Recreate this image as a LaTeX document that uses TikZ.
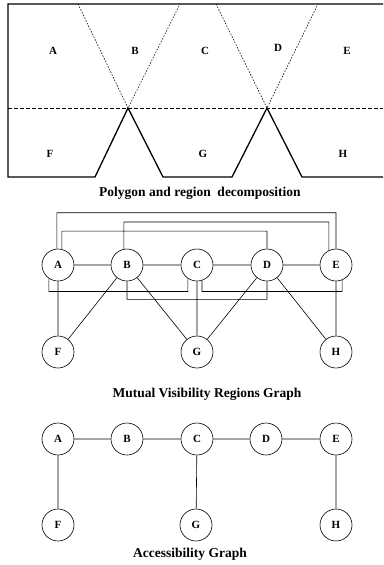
\documentclass[tikz,border=0pt]{standalone}
\usepackage{fontspec}
\setmainfont{Liberation Serif}

\begin{document}
\begin{tikzpicture}[x=1pt,y=-1pt,line width=.6pt,
    region/.style={circle,draw,minimum size=32pt,inner sep=0pt,
	font=\fontsize{11}{13}\selectfont\bfseries},
    letter/.style={font=\fontsize{11}{13}\selectfont\bfseries},
    caption/.style={font=\fontsize{13.5}{16}\selectfont\bfseries}]
\useasboundingbox (0,0) rectangle (383,565);
% polygon
\draw [line width=1.3pt]
    (383,4) -- (8,4) -- (8,177) -- (95,177) -- (128,108) -- (163,177)
    -- (232,177) -- (267,108) -- (302,177) -- (383,177);
\draw [dash pattern=on 4pt off 2pt] (8,108) -- (383,108);
\draw [dash pattern=on 1.5pt off 1.5pt]
    (78,4) -- (128,108) -- (180,4)
    (216,4) -- (267,108) -- (318,4);
\path
    (53,51) node [letter] (rA) {A}
    (135,51) node [letter] (rB) {B}
    (205,51) node [letter] (rC) {C}
    (278,48) node [letter] (rD) {D}
    (347,51) node [letter] (rE) {E}
    (50,154) node [letter] (rF) {F}
    (203,154) node [letter] (rG) {G}
    (343,154) node [letter] (rH) {H}
    (200,193) node [caption] (cap1) {Polygon and region\ \ decomposition};
% mutual visibility regions graph
\path
    (58,265) node [region] (vA) {A}
    (127,265) node [region] (vB) {B}
    (197,265) node [region] (vC) {C}
    (267,265) node [region] (vD) {D}
    (336,265) node [region] (vE) {E}
    (58,352) node [region] (vF) {F}
    (197,352) node [region] (vG) {G}
    (336,352) node [region] (vH) {H}
    (207,394) node [caption] (cap2) {Mutual Visibility Regions Graph};
\draw
    (vA) -- (vB) -- (vC) -- (vD) -- (vE)
    (vA) -- (vF) (vB) -- (vF) (vB) -- (vG) (vC) -- (vG)
    (vD) -- (vG) (vD) -- (vH) (vE) -- (vH)
    (vA.94) -- ++(0,-36) -| (vE.north)
    (vB.101) -- ++(0,-27) -| (vE.116)
    (vA.76) -- ++(0,-18) -| (vD.north)
    (vA.236) -- ++(0,13) -| (vC.236)
    (vB.south) -- ++(0,18) -| (vD.south)
    (vC.288) -- ++(0,11) -| (vE.292);
% accessibility graph
\path
    (58,439) node [region] (aA) {A}
    (127,439) node [region] (aB) {B}
    (197,439) node [region] (aC) {C}
    (266,439) node [region] (aD) {D}
    (336,439) node [region] (aE) {E}
    (58,525) node [region] (aF) {F}
    (196,525) node [region] (aG) {G}
    (336,525) node [region] (aH) {H}
    (190,554) node [caption] (cap3) {Accessibility Graph};
\draw
    (aA) -- (aB) -- (aC) -- (aD) -- (aE)
    (aA) -- (aF) (aC) -- (aG) (aE) -- (aH);
\end{tikzpicture}
\end{document}
